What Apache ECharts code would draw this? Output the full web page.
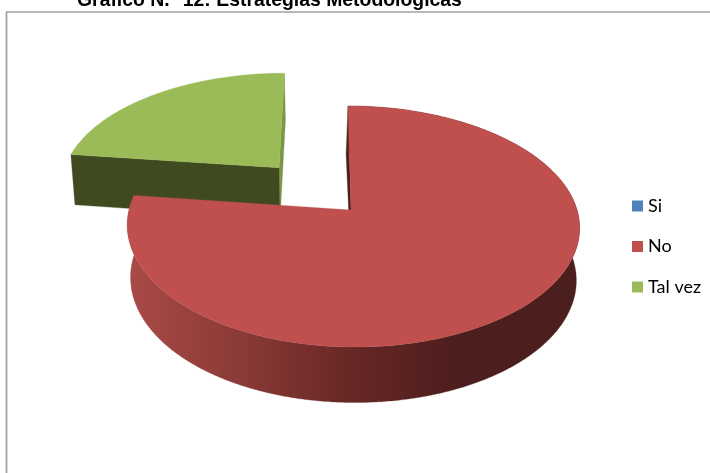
<!DOCTYPE html>
<html><head><meta charset="utf-8">
<style>html,body{margin:0;padding:0;background:#fff}#c{width:710px;height:473px}</style>
<script src="https://cdn.jsdelivr.net/npm/echarts@6/dist/echarts.min.js"></script>
</head><body><div id="c"></div>
<script>
var categories = ['Si', 'No', 'Tal vez'];
var values = [0, 77, 23];
var explode = [0, 0, 0.5];
var bow = [0, 2, 0];
var uScale = [1, 0.9956, 1];
var colors = ['#4f81bd', '#bf504d', '#9bbb59'];
var wallColors = ['#2a4466', '#4a1e1c', '#7b9645'];
var cutColors = ['#2a4466', '#4a1e1c', '#404a20'];
var sideStops = [[0, '#a84a47'], [0.33, '#8b3a37'], [0.67, '#672725'], [1, '#4c1e1d']];
var chartTitle = 'Gráfico N.° 12: Estrategias Metodológicas';

// Projection of the unit pie disc onto the page (perspective view).
var P = {x0: 351, y0: 210, a: 225, s: -44.7, b: 89.5, k: 0.137};
function top3d(u, v) {
  var w = 1 - P.k * v;
  return [(P.x0 + P.a * u + P.s * v) / w, (P.y0 + P.b * v) / w];
}
function bottom3d(p, v) {
  return [p[0] + (353 - p[0]) * 0.0143, p[1] + 52 + 3.5 * v];
}
var total = values.reduce(function (s, x) { return s + x; }, 0);
function sliceAngles(i) {
  var before = 0;
  for (var j = 0; j < i; j++) before += values[j];
  return [before / total * 2 * Math.PI, (before + values[i]) / total * 2 * Math.PI];
}
function renderSlice(params, api) {
  var i = params.seriesIndex;
  var val = api.value(0);
  if (!val) return null;
  var ang = sliceAngles(i);
  var mid = (ang[0] + ang[1]) / 2;
  var ou = Math.sin(mid) * explode[i], ov = -Math.cos(mid) * explode[i];
  var arcT = [], arcB = [];
  var n = Math.ceil((ang[1] - ang[0]) / 0.01);
  for (var q = 0; q <= n; q++) {
    var t = ang[0] + (ang[1] - ang[0]) * q / n;
    var u = ou + Math.sin(t) * uScale[i], v = ov - Math.cos(t);
    var p = top3d(u, v);
    p[0] += bow[i] * Math.sin(t) * Math.sin(t);
    arcT.push(p);
    arcB.push(bottom3d(p, v));
  }
  var aT = top3d(ou, ov), aB = bottom3d(aT, ov);
  var first = arcT[0], firstB = arcB[0], last = arcT[n], lastB = arcB[n];
  function poly(pts, fill) {
    return {type: 'polygon', shape: {points: pts}, style: {fill: fill, stroke: fill, lineWidth: 0.3}};
  }
  var side = new echarts.graphic.LinearGradient(130, 0, 460, 0, sideStops.map(function (s) {
    return {offset: s[0], color: s[1]};
  }), true);
  var children = [];
  if (i === 1) {
    // The wall of the starting cut shows as a thin dark wedge beside the top face.
    children.push(poly([first, aT, aB, [firstB[0] - 2, firstB[1]]], wallColors[i]));
    children.push(poly(arcT.concat(arcB.slice().reverse()), side));
  } else {
    children.push(poly([last, aT, aB, lastB], wallColors[i]));
    children.push(poly([first, aT, aB, firstB], cutColors[i]));
  }
  children.push(poly(arcT.concat([aT]), colors[i]));
  return {type: 'group', children: children};
}
var chart = echarts.init(document.getElementById('c'), null, {renderer: 'canvas'});
chart.setOption({
  animation: false,
  backgroundColor: '#ffffff',
  title: {
    text: chartTitle, left: 72, top: -14,
    textStyle: {fontFamily: 'Liberation Sans', fontWeight: 'bold', fontSize: 19.4, color: '#000'}
  },
  legend: {
    orient: 'vertical', left: 627, top: 192, itemWidth: 11, itemHeight: 11, itemGap: 22.5,
    selectedMode: false, icon: 'rect', data: categories,
    textStyle: {fontFamily: 'Lato', fontSize: 18, color: '#000'}
  },
  graphic: [{
    type: 'polyline', z: -1, silent: true,
    shape: {points: [[6.5, 473], [6.5, 12], [710, 12]]},
    style: {stroke: '#a0a0a0', lineWidth: 1.7, fill: null}
  }],
  series: categories.map(function (name, i) {
    return {
      type: 'custom', name: name, coordinateSystem: 'none', z: i === 2 ? 1 : 2,
      renderItem: renderSlice, itemStyle: {color: colors[i]},
      data: [[values[i]]], silent: true
    };
  })
});
</script></body></html>
